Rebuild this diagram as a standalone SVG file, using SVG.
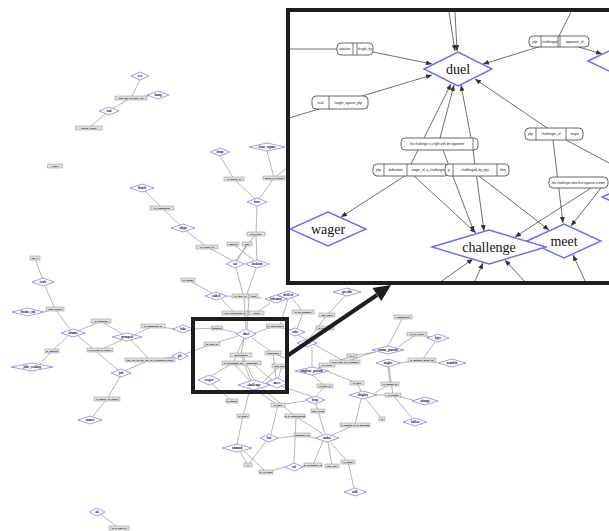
<svg xmlns="http://www.w3.org/2000/svg" width="609" height="531" viewBox="0 0 609 531">
<defs>
<style>
.d{fill:#fff;stroke:#7373ff;stroke-width:.7}
.dt{font-family:"Liberation Serif",serif;font-weight:bold;font-size:3.4px;text-anchor:middle;fill:#111}
.b{fill:#e0e0e0;stroke:#7a7a7a;stroke-width:.4}
.bt{font-family:"Liberation Sans",sans-serif;font-weight:bold;font-size:2.4px;text-anchor:middle;fill:#111}
.e{stroke:#848484;stroke-width:.6;fill:none}
.fr{fill:none;stroke:#1e1e1e;stroke-width:4}
.ie{stroke:#4a4a4a;stroke-width:.8;fill:none}
.ia{marker-end:url(#ah)}
.id{fill:#fff;stroke:#6b6bff;stroke-width:1.4}
.idt{font-family:"Liberation Serif",serif;font-size:14px;text-anchor:middle;fill:#111}
.ib{fill:#fff;stroke:#555;stroke-width:.9}
.ibl{stroke:#555;stroke-width:.8}
.ibt{font-family:"Liberation Sans",sans-serif;font-size:3.2px;text-anchor:middle;fill:#111}
</style>
<marker id="ah" markerUnits="userSpaceOnUse" markerWidth="6" markerHeight="5" refX="6" refY="2.5" orient="auto"><path d="M0,0L6,2.5L0,5z" fill="#333"/></marker>
<clipPath id="ic"><rect x="290" y="12" width="319" height="269"/></clipPath>
</defs>
<rect width="609" height="531" fill="#fff"/>

<g id="connectors">
<path class="e" d="M140 80L131 98M131 98L154 95M131 98L112 109M106 113L89 128"/>
<path class="e" d="M220 156L234 179L255 199M267 151L274 178L259 199M274 178L292 164M257 206L256 234M256 234L236 260M256 234L257 260M233 244L255 261M247 244L237 261"/>
<path class="e" d="M145 191L162 208L181 226M186 231L207 247L233 261M236 268L243 294M256 268L247 294M244 298L246 329M249 298L247 329M188 280L212 293M227 296L262 298M221 299L235 313M270 303L256 313"/>
<path class="e" d="M35 258L42 278M45 286L55 309L70 329M44 312L55 309M78 331L101 321L124 335M68 336L52 351L40 364M78 336L118 370M122 340L100 350M132 336L153 326L175 329M131 340L148 358M124 371L150 360L174 357M120 377L107 399L93 416"/>
<path class="e" d="M191 329L217 328L237 333M185 354L212 344L238 336M255 333L275 326M280 325L288 299M278 327L293 330"/>
<path class="e" d="M244 339L241 355M233 363L244 338M273 353L252 338M233 363L211 376M233 363L250 381M241 355L251 381M243 356L254 381M252 363L272 380M280 366L263 382M282 366L278 379M273 353L276 379M273 353L289 360"/>
<path class="e" d="M250 389L243 416L237 444M254 389L278 405L271 434M262 388L295 416L323 434M281 386L313 397M212 384L232 401"/>
<path class="e" d="M292 298L303 312L297 329M345 296L327 315L309 339M298 335L345 362L374 352M312 347L312 367M318 368L327 365L352 356L376 352M312 375L325 386L316 396M316 404L318 411L325 434M329 372L357 383L361 391"/>
<path class="e" d="M388 346L403 317M398 347L417 334L430 337M435 342L422 360M400 363L422 360L438 363M369 395L393 395L413 400M389 367L393 395L412 418M375 393L390 384L388 367M366 399L382 419M361 399L355 425L332 435"/>
<path class="e" d="M278 438L302 435L315 438M266 441L248 465M240 452L248 465M244 451L266 472L285 467M294 463L296 418M323 441L313 465L302 467M328 442L332 466M330 442L348 462L354 488M305 401L278 405M100 514L119 528"/>
</g>

<g id="labels">
<g transform="translate(131,98)"><rect class="b" x="-16" y="-2" width="32" height="4"/><text class="bt" y=".8">has_part_of_item_list</text></g>
<g transform="translate(89,128)"><rect class="b" x="-13.5" y="-2" width="27" height="4"/><text class="bt" y=".8">theme_flavor</text></g>
<g transform="translate(55,166)"><rect class="b" x="-7.5" y="-2" width="15" height="4"/><text class="bt" y=".8">result</text></g>
<g transform="translate(234,179)"><rect class="b" x="-10" y="-2" width="20" height="4"/><text class="bt" y=".8">is_action_of</text></g>
<g transform="translate(274,178)"><rect class="b" x="-11" y="-2" width="22" height="4"/><text class="bt" y=".8">agent_of_action</text></g>
<g transform="translate(162,208)"><rect class="b" x="-12" y="-2" width="24" height="4"/><text class="bt" y=".8">is_component</text></g>
<g transform="translate(256,234)"><rect class="b" x="-9" y="-2" width="18" height="4"/><text class="bt" y=".8">is_a_type</text></g>
<g transform="translate(233,244)"><rect class="b" x="-6" y="-2" width="12" height="4"/><text class="bt" y=".8">causes</text></g>
<g transform="translate(247,244)"><rect class="b" x="-5" y="-2" width="10" height="4"/><text class="bt" y=".8">part</text></g>
<g transform="translate(207,247)"><rect class="b" x="-11" y="-2" width="22" height="4"/><text class="bt" y=".8">is_result_of</text></g>
<g transform="translate(188,280)"><rect class="b" x="-7" y="-2" width="14" height="4"/><text class="bt" y=".8">is_cause</text></g>
<g transform="translate(35,258)"><rect class="b" x="-5" y="-2" width="10" height="4"/><text class="bt" y=".8">ppl_A</text></g>
<g transform="translate(55,309)"><rect class="b" x="-9" y="-2" width="18" height="4"/><text class="bt" y=".8">goal_preset</text></g>
<g transform="translate(101,321)"><rect class="b" x="-10" y="-2" width="20" height="4"/><text class="bt" y=".8">is_grouped</text></g>
<g transform="translate(52,351)"><rect class="b" x="-7" y="-2" width="14" height="4"/><text class="bt" y=".8">is_subject</text></g>
<g transform="translate(100,350)"><rect class="b" x="-13" y="-2" width="26" height="4"/><text class="bt" y=".8">is_a_rival_of_player</text></g>
<g transform="translate(153,326)"><rect class="b" x="-12" y="-2" width="24" height="4"/><text class="bt" y=".8">is_opponent_of</text></g>
<g transform="translate(150,360)"><rect class="b" x="-25" y="-2" width="50" height="4"/><text class="bt" y=".8">the_plc_of_the_job_is_a_grouped_scale</text></g>
<g transform="translate(107,399)"><rect class="b" x="-13" y="-2" width="26" height="4"/><text class="bt" y=".8">is_owner_of_items</text></g>
<g transform="translate(240.5,296)"><rect class="b" x="-8.5" y="-2" width="17" height="4"/><text class="bt" y=".8">is_type_of</text></g>
<g transform="translate(253.5,296)"><rect class="b" x="-4.5" y="-2" width="9" height="4"/><text class="bt" y=".8">item</text></g>
<g transform="translate(235,313)"><rect class="b" x="-13" y="-2" width="26" height="4"/><text class="bt" y=".8">is_a_preceding_of</text></g>
<g transform="translate(256.5,313)"><rect class="b" x="-7.5" y="-2" width="15" height="4"/><text class="bt" y=".8">event</text></g>
<g transform="translate(217,328)"><rect class="b" x="-5.5" y="-2" width="11" height="4"/><text class="bt" y=".8">attacker</text></g>
<g transform="translate(275,326)"><rect class="b" x="-8.5" y="-2" width="17" height="4"/><text class="bt" y=".8">is_challenged</text></g>
<g transform="translate(212,344)"><rect class="b" x="-8" y="-2" width="16" height="4"/><text class="bt" y=".8">is_rival_of</text></g>
<g transform="translate(241,355)"><rect class="b" x="-11" y="-2" width="22" height="4"/><text class="bt" y=".8">description</text></g>
<g transform="translate(233,363)"><rect class="b" x="-11" y="-2" width="22" height="4"/><text class="bt" y=".8">is_defendant_of</text></g>
<g transform="translate(252,363)"><rect class="b" x="-9" y="-2" width="18" height="4"/><text class="bt" y=".8">challenge</text></g>
<g transform="translate(273,353)"><rect class="b" x="-8" y="-2" width="16" height="4"/><text class="bt" y=".8">challenger</text></g>
<g transform="translate(280,366)"><rect class="b" x="-8" y="-2" width="16" height="4"/><text class="bt" y=".8">first_meet</text></g>
<g transform="translate(232,401)"><rect class="b" x="-6" y="-2" width="12" height="4"/><text class="bt" y=".8">is_wager</text></g>
<g transform="translate(278,405)"><rect class="b" x="-7" y="-2" width="14" height="4"/><text class="bt" y=".8">is_after</text></g>
<g transform="translate(243,416)"><rect class="b" x="-6" y="-2" width="12" height="4"/><text class="bt" y=".8">is_place</text></g>
<g transform="translate(295,416)"><rect class="b" x="-10" y="-2" width="20" height="4"/><text class="bt" y=".8">is_a_consequence</text></g>
<g transform="translate(318,411)"><rect class="b" x="-7" y="-2" width="14" height="4"/><text class="bt" y=".8">has_event</text></g>
<g transform="translate(302,435)"><rect class="b" x="-8" y="-2" width="16" height="4"/><text class="bt" y=".8">outcome_of</text></g>
<g transform="translate(248,465)"><rect class="b" x="-4" y="-2" width="8" height="4"/><text class="bt" y=".8">p</text></g>
<g transform="translate(266,472)"><rect class="b" x="-7" y="-2" width="14" height="4"/><text class="bt" y=".8">is_in_place</text></g>
<g transform="translate(313,465)"><rect class="b" x="-9" y="-2" width="18" height="4"/><text class="bt" y=".8">is_a_member_of</text></g>
<g transform="translate(332,466)"><rect class="b" x="-7" y="-2" width="14" height="4"/><text class="bt" y=".8">has_role</text></g>
<g transform="translate(348,462)"><rect class="b" x="-7" y="-2" width="14" height="4"/><text class="bt" y=".8">is_cause</text></g>
<g transform="translate(355,425)"><rect class="b" x="-15" y="-2" width="30" height="4"/><text class="bt" y=".8">is_display_of_a_meeting</text></g>
<g transform="translate(382,419)"><rect class="b" x="-3" y="-2" width="6" height="4"/><text class="bt" y=".8">of</text></g>
<g transform="translate(303,312)"><rect class="b" x="-11" y="-2" width="22" height="4"/><text class="bt" y=".8">is_an_example</text></g>
<g transform="translate(327,315)"><rect class="b" x="-8" y="-2" width="16" height="4"/><text class="bt" y=".8">has_value</text></g>
<g transform="translate(325,328)"><rect class="b" x="-9" y="-2" width="18" height="4"/><text class="bt" y=".8">is_a_parade</text></g>
<g transform="translate(345,362)"><rect class="b" x="-15" y="-2" width="30" height="4"/><text class="bt" y=".8">is_a_part_of_a_parade</text></g>
<g transform="translate(327,365)"><rect class="b" x="-8" y="-2" width="16" height="4"/><text class="bt" y=".8">in_event</text></g>
<g transform="translate(352,356)"><rect class="b" x="-5" y="-2" width="10" height="4"/><text class="bt" y=".8">of_it</text></g>
<g transform="translate(325,386)"><rect class="b" x="-8" y="-2" width="16" height="4"/><text class="bt" y=".8">is_part_of</text></g>
<g transform="translate(357,383)"><rect class="b" x="-7" y="-2" width="14" height="4"/><text class="bt" y=".8">is_after</text></g>
<g transform="translate(403,317)"><rect class="b" x="-9" y="-2" width="18" height="4"/><text class="bt" y=".8">component</text></g>
<g transform="translate(417,334)"><rect class="b" x="-10" y="-2" width="20" height="4"/><text class="bt" y=".8">is_to_event</text></g>
<g transform="translate(422,360)"><rect class="b" x="-14" y="-2" width="28" height="4"/><text class="bt" y=".8">is_another_word_for</text></g>
<g transform="translate(390,384)"><rect class="b" x="-9" y="-2" width="18" height="4"/><text class="bt" y=".8">is_shown_at</text></g>
<g transform="translate(393,395)"><rect class="b" x="-8" y="-2" width="16" height="4"/><text class="bt" y=".8">is_shown</text></g>
<g transform="translate(119,528)"><rect class="b" x="-10" y="-2" width="20" height="4"/><text class="bt" y=".8">is_a_part_of</text></g>
</g>

<g id="nodes">
<g id="n-sea" transform="translate(140,76)"><polygon class="d" points="-9,0 0,-4 9,0 0,4"/><text class="dt" y="1.2">sea</text></g>
<g id="n-bang" transform="translate(158,95)"><polygon class="d" points="-11,0 0,-4 11,0 0,4"/><text class="dt" y="1.2">bang</text></g>
<g id="n-sad" transform="translate(109,111)"><polygon class="d" points="-10,0 0,-4 10,0 0,4"/><text class="dt" y="1.2">sad</text></g>
<g id="n-drop" transform="translate(220,152)"><polygon class="d" points="-10,0 0,-4 10,0 0,4"/><text class="dt" y="1.2">drop</text></g>
<g id="n-four" transform="translate(267,147)"><polygon class="d" points="-18,0 0,-4 18,0 0,4"/><text class="dt" y="1.2">four_sigma</text></g>
<g id="n-boss" transform="translate(257,202)"><polygon class="d" points="-10,0 0,-4 10,0 0,4"/><text class="dt" y="1.2">boss</text></g>
<g id="n-finish" transform="translate(142,188)"><polygon class="d" points="-12,0 0,-4 12,0 0,4"/><text class="dt" y="1.2">finish</text></g>
<g id="n-align" transform="translate(183,228)"><polygon class="d" points="-12,0 0,-4 12,0 0,4"/><text class="dt" y="1.2">align</text></g>
<g id="n-sat" transform="translate(235,264)"><polygon class="d" points="-9,0 0,-4 9,0 0,4"/><text class="dt" y="1.2">sat</text></g>
<g id="n-fashion" transform="translate(257,264)"><polygon class="d" points="-12,0 0,-4 12,0 0,4"/><text class="dt" y="1.2">fashion</text></g>
<g id="n-scale" transform="translate(43,282)"><polygon class="d" points="-11,0 0,-4 11,0 0,4"/><text class="dt" y="1.2">scale</text></g>
<g id="n-books" transform="translate(28,312)"><polygon class="d" points="-16,0 0,-4 16,0 0,4"/><text class="dt" y="1.2">books_sm</text></g>
<g id="n-abams" transform="translate(73,333)"><polygon class="d" points="-12,0 0,-4 12,0 0,4"/><text class="dt" y="1.2">abams</text></g>
<g id="n-jobs" transform="translate(32,367)"><polygon class="d" points="-21,0 0,-4 21,0 0,4"/><text class="dt" y="1.2">jobs_scaling</text></g>
<g id="n-grouped" transform="translate(127,337)"><polygon class="d" points="-15,0 0,-4 15,0 0,4"/><text class="dt" y="1.2">grouped</text></g>
<g id="n-bda" transform="translate(183,329)"><polygon class="d" points="-10,0 0,-4 10,0 0,4"/><text class="dt" y="1.2">bda</text></g>
<g id="n-plc" transform="translate(180,356)"><polygon class="d" points="-8,0 0,-4 8,0 0,4"/><text class="dt" y="1.2">plc</text></g>
<g id="n-job" transform="translate(121,373)"><polygon class="d" points="-10,0 0,-4 10,0 0,4"/><text class="dt" y="1.2">job</text></g>
<g id="n-oamst" transform="translate(90,420)"><polygon class="d" points="-12,0 0,-4 12,0 0,4"/><text class="dt" y="1.2">oamst</text></g>
<g id="n-called" transform="translate(216,296)"><polygon class="d" points="-11,0 0,-4 11,0 0,4"/><text class="dt" y="1.2">called</text></g>
<g id="n-bdstmat" transform="translate(276,299)"><polygon class="d" points="-11,0 0,-4 11,0 0,4"/><text class="dt" y="1.2">bdstmat</text></g>
<g id="n-drilled" transform="translate(288,295)"><polygon class="d" points="-11,0 0,-4 11,0 0,4"/><text class="dt" y="1.2">drilled</text></g>
<g id="n-grsclds" transform="translate(347,292)"><polygon class="d" points="-14,0 0,-4 14,0 0,4"/><text class="dt" y="1.2">grsclds</text></g>
<g id="n-sabs" transform="translate(295,332)"><polygon class="d" points="-10,0 0,-4 10,0 0,4"/><text class="dt" y="1.2">sabs</text></g>
<g id="n-cost" transform="translate(307,343)"><polygon class="d" points="-10,0 0,-4 10,0 0,4"/><text class="dt" y="1.2">cost</text></g>
<g id="n-ongl" transform="translate(312,371)"><polygon class="d" points="-17,0 0,-4 17,0 0,4"/><text class="dt" y="1.2">onglsar_parade</text></g>
<g id="n-sonna" transform="translate(388,350)"><polygon class="d" points="-16,0 0,-4 16,0 0,4"/><text class="dt" y="1.2">sonna_parade</text></g>
<g id="n-bgss" transform="translate(438,338)"><polygon class="d" points="-11,0 0,-4 11,0 0,4"/><text class="dt" y="1.2">bgss</text></g>
<g id="n-angl" transform="translate(388,363)"><polygon class="d" points="-12,0 0,-4 12,0 0,4"/><text class="dt" y="1.2">anglss</text></g>
<g id="n-asm" transform="translate(452,363)"><polygon class="d" points="-14,0 0,-4 14,0 0,4"/><text class="dt" y="1.2">asmdsh</text></g>
<g id="n-abmgs" transform="translate(425,401)"><polygon class="d" points="-13,0 0,-4 13,0 0,4"/><text class="dt" y="1.2">abmgs</text></g>
<g id="n-bdlen" transform="translate(415,422)"><polygon class="d" points="-12,0 0,-4 12,0 0,4"/><text class="dt" y="1.2">bdlen</text></g>
<g id="n-bssp" transform="translate(315,400)"><polygon class="d" points="-10,0 0,-4 10,0 0,4"/><text class="dt" y="1.2">bssp</text></g>
<g id="n-display" transform="translate(363,395)"><polygon class="d" points="-14,0 0,-4 14,0 0,4"/><text class="dt" y="1.2">display</text></g>
<g id="n-bal" transform="translate(269,438)"><polygon class="d" points="-9,0 0,-4 9,0 0,4"/><text class="dt" y="1.2">bal</text></g>
<g id="n-nnba" transform="translate(327,438)"><polygon class="d" points="-12,0 0,-4 12,0 0,4"/><text class="dt" y="1.2">nnba</text></g>
<g id="n-oumnd" transform="translate(237,448)"><polygon class="d" points="-15,0 0,-4 15,0 0,4"/><text class="dt" y="1.2">oumnd</text></g>
<g id="n-sal" transform="translate(294,467)"><polygon class="d" points="-9,0 0,-4 9,0 0,4"/><text class="dt" y="1.2">sal</text></g>
<g id="n-adls" transform="translate(355,492)"><polygon class="d" points="-11,0 0,-4 11,0 0,4"/><text class="dt" y="1.2">adls</text></g>
<g id="n-ak" transform="translate(97,512)"><polygon class="d" points="-8,0 0,-4 8,0 0,4"/><text class="dt" y="1.2">ak</text></g>
<g id="n-duel" transform="translate(246,334)"><polygon class="d" points="-10,0 0,-5 10,0 0,5"/><text class="dt" y="1.2">duel</text></g>
<g id="n-wager" transform="translate(209,380)"><polygon class="d" points="-11,0 0,-5 11,0 0,5"/><text class="dt" y="1.2">wager</text></g>
<g id="n-meet" transform="translate(277,383)"><polygon class="d" points="-11,0 0,-5 11,0 0,5"/><text class="dt" y="1.2">meet</text></g>
<g id="n-challenge" transform="translate(254,385)"><polygon class="d" points="-16,0 0,-5 16,0 0,5"/><text class="dt" y="1.2">challenge</text></g>
</g>

<rect id="focus-box" class="fr" x="193" y="319" width="94" height="73"/>
<g id="zoom-arrow"><line x1="287" y1="356" x2="377" y2="295" stroke="#1e1e1e" stroke-width="4"/><polygon points="391,285 381.4,301.1 372.4,287.9" fill="#1e1e1e"/></g>

<g id="inset">
<rect x="288" y="10" width="325" height="273" fill="#fff"/>
<g clip-path="url(#ic)">
<g id="inset-connectors">
<path class="ie ia" d="M449 12L455 51"/>
<path class="ie ia" d="M455 12L457 51"/>
<path class="ie" d="M288 49L337 49"/>
<path class="ie ia" d="M373 52L432 64"/>
<path class="ie ia" d="M555 42L483 64"/>
<path class="ie" d="M571 12L559 36"/>
<path class="ie ia" d="M562 42L602 54"/>
<path class="ie ia" d="M289 118L432 75"/>
<path class="ie ia" d="M411 164L451 84"/>
<path class="ie ia" d="M440 138L454 85"/>
<path class="ie ia" d="M471 138L461 85"/>
<path class="ie ia" d="M553 132L475 79"/>
<path class="ie ia" d="M411 172L341 217"/>
<path class="ie ia" d="M414 176L476 233"/>
<path class="ie ia" d="M443 150L474 232"/>
<path class="ie ia" d="M473 150L484 231"/>
<path class="ie ia" d="M479 176L549 230"/>
<path class="ie ia" d="M591 188L515 237"/>
<path class="ie ia" d="M601 188L571 226"/>
<path class="ie ia" d="M553 140L563 223"/>
<path class="ie" d="M566 140L609 163"/>
<path class="ie ia" d="M439 283L473 259"/>
<path class="ie ia" d="M474 283L483 263"/>
<path class="ie ia" d="M526 283L505 260"/>
<path class="ie ia" d="M586 283L573 255"/>
</g>
<g id="inset-labels">
<g><rect class="ib" x="337" y="43" width="36" height="12" rx="4"/><path class="ibl" d="M353 43V55M357 43V55"/><text class="ibt" x="345" y="50.2">attacker</text><text class="ibt" x="365" y="50.2">fought_by</text></g>
<g><rect class="ib" x="529" y="36" width="60" height="11" rx="4"/><path class="ibl" d="M541 36V47M558 36V47M560 36V47"/><text class="ibt" x="535" y="42.7">plyr</text><text class="ibt" x="549.5" y="42.7">challenged</text><text class="ibt" x="574.5" y="42.7">opponent_of</text></g>
<g><rect class="ib" x="312" y="96" width="56" height="13" rx="4"/><path class="ibl" d="M329 96V109"/><text class="ibt" x="320.5" y="103.7">rival</text><text class="ibt" x="348.5" y="103.7">fought_against_plyr</text></g>
<g><rect class="ib" x="525" y="128" width="58" height="12" rx="4"/><path class="ibl" d="M536 128V140M566 128V140"/><text class="ibt" x="530.5" y="135.2">plyr</text><text class="ibt" x="551" y="135.2">challenger_of</text><text class="ibt" x="574.5" y="135.2">target</text></g>
<g><rect class="ib" x="401" y="138" width="77" height="12" rx="4"/><path class="ibl" d="M473 138V150"/><text class="ibt" x="437" y="145.2" style="font-size:3px">the challenge is a fight with the opponent</text></g>
<g><rect class="ib" x="373" y="164" width="76" height="12" rx="4"/><path class="ibl" d="M384 164V176M407 164V176"/><text class="ibt" x="378.5" y="171.2">plyr</text><text class="ibt" x="395.5" y="171.2">defendant</text><text class="ibt" x="428" y="171.2">wager_of_a_challenger</text></g>
<g><rect class="ib" x="445" y="164" width="64" height="12" rx="4"/><path class="ibl" d="M453 164V176M497 164V176"/><text class="ibt" x="449" y="171.2">p</text><text class="ibt" x="475" y="171.2">challenged_by_plyr</text><text class="ibt" x="503" y="171.2">then</text></g>
<g><rect class="ib" x="549" y="177" width="59" height="11" rx="4"/><text class="ibt" x="578.5" y="183.7" style="font-size:3px">the challenger who first requests a meet</text></g>
</g>
<g id="inset-nodes">
<g id="i-duel" transform="translate(458,69)"><polygon class="id" points="-34,0 0,-17 34,0 0,17"/><text class="idt" y="4.5">duel</text></g>
<g id="i-wager" transform="translate(328,229)"><polygon class="id" points="-38,0 0,-17 38,0 0,17"/><text class="idt" y="4.5">wager</text></g>
<g id="i-meet" transform="translate(564,241)"><polygon class="id" points="-37,0 0,-17 37,0 0,17"/><text class="idt" y="4.5">meet</text></g>
<g id="i-challenge" transform="translate(489,247)"><polygon class="id" points="-57,0 0,-17 57,0 0,17"/><text class="idt" y="4.5">challenge</text></g>
<g id="i-sabs" transform="translate(624,61)"><polygon class="id" points="-36,0 0,-17 36,0 0,17"/></g>
<g id="i-ongl" transform="translate(640,197)"><polygon class="id" points="-38,0 0,-17 38,0 0,17"/></g>
</g>
</g>
<rect id="inset-frame" class="fr" x="288" y="10" width="325" height="273"/>
</g>
</svg>
